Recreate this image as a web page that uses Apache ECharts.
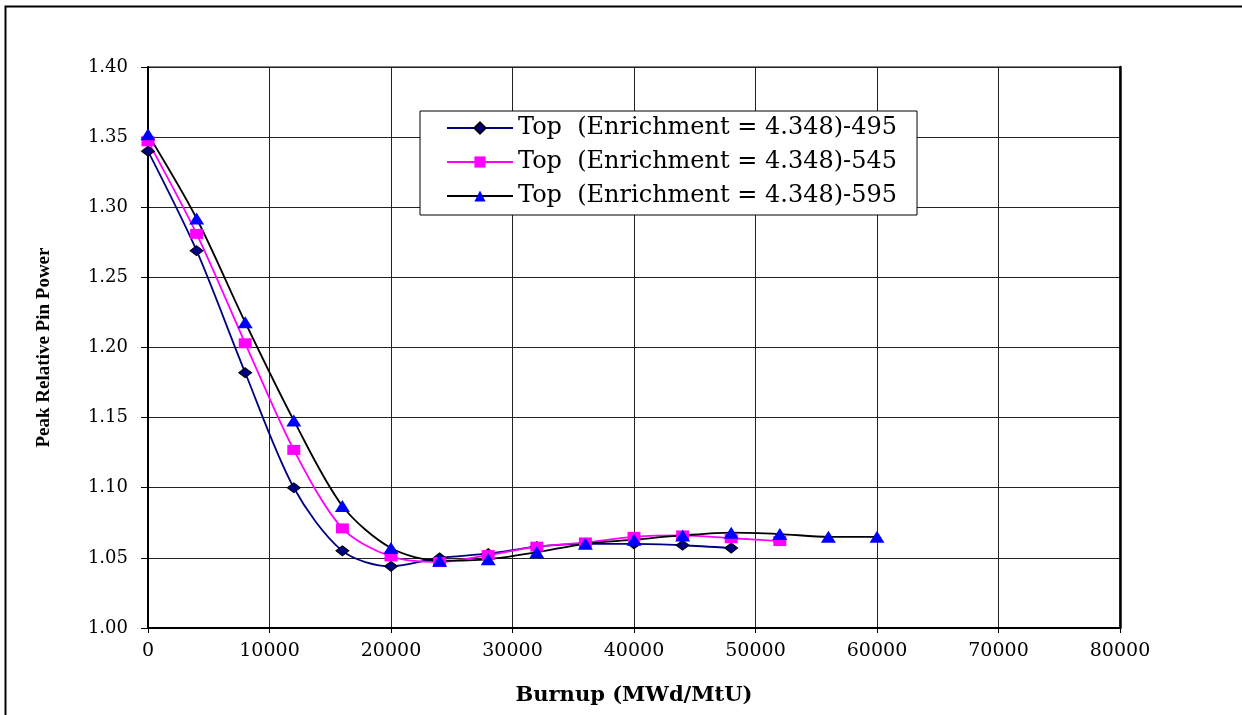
<!DOCTYPE html>
<html>
<head>
<meta charset="utf-8">
<script src="https://cdn.jsdelivr.net/npm/echarts@6/dist/echarts.min.js"></script>
<style>
  html, body { margin: 0; padding: 0; background: #fff; }
  #chart { width: 1242px; height: 715px; }
</style>
</head>
<body>
<div id="chart"></div>
<script>
// ---- 数据 ----
const names = [
  'Top  (Enrichment = 4.348)-495',
  'Top  (Enrichment = 4.348)-545',
  'Top  (Enrichment = 4.348)-595'
];
const burnup495 = [0, 4000, 8000, 12000, 16000, 20000, 24000, 28000, 32000, 36000, 40000, 44000, 48000];
const power495  = [1.340, 1.269, 1.182, 1.100, 1.055, 1.044, 1.050, 1.053, 1.058, 1.060, 1.060, 1.059, 1.057];
const burnup545 = [0, 4000, 8000, 12000, 16000, 20000, 24000, 28000, 32000, 36000, 40000, 44000, 48000, 52000];
const power545  = [1.347, 1.281, 1.203, 1.127, 1.071, 1.051, 1.047, 1.052, 1.058, 1.061, 1.065, 1.066, 1.064, 1.062];
const burnup595 = [0, 4000, 8000, 12000, 16000, 20000, 24000, 28000, 32000, 36000, 40000, 44000, 48000, 52000, 56000, 60000];
const power595  = [1.352, 1.292, 1.218, 1.148, 1.087, 1.057, 1.048, 1.049, 1.054, 1.060, 1.063, 1.066, 1.068, 1.067, 1.065, 1.065];

const pairs = (xs, ys) => xs.map((x, i) => [x, ys[i]]);

const serif = 'DejaVu Serif';
const chart = echarts.init(document.getElementById('chart'));

chart.setOption({
  animation: false,
  backgroundColor: '#fff',
  graphic: [{
    type: 'rect',
    shape: { x: 5.5, y: 6.5, width: 1260, height: 730 },
    style: { fill: 'none', stroke: '#000', lineWidth: 2 },
    silent: true
  }],
  grid: { left: 148, right: 122, top: 67, bottom: 87, show: true, borderColor: '#000', borderWidth: 1 },
  legend: {
    orient: 'vertical',
    left: 420, top: 111,
    padding: [5, 20, 7, 26],
    itemWidth: 66, itemHeight: 14, itemGap: 10,
    backgroundColor: '#fff',
    borderColor: '#000', borderWidth: 1,
    textStyle: { fontFamily: serif, fontSize: 24, color: '#000' },
    data: names
  },
  xAxis: {
    type: 'value', min: 0, max: 80000, interval: 10000,
    name: 'Burnup (MWd/MtU)', nameLocation: 'middle', nameGap: 57,
    nameTextStyle: { fontFamily: serif, fontWeight: 'bold', fontSize: 21, color: '#000' },
    axisLine: { lineStyle: { color: '#000', width: 2 } },
    axisTick: { show: true, length: 5, lineStyle: { color: '#000' } },
    axisLabel: { fontFamily: serif, fontSize: 19, color: '#000', margin: 14, formatter: (v) => String(v) },
    splitLine: { show: true, lineStyle: { color: '#222', width: 1 } }
  },
  yAxis: [{
    type: 'value', min: 1.0, max: 1.4, interval: 0.05,
    name: 'Peak Relative Pin Power', nameLocation: 'middle', nameGap: 94, nameRotate: 90,
    nameTextStyle: { fontFamily: 'Liberation Serif', fontWeight: 'bold', fontSize: 19, color: '#000' },
    axisLine: { show: true, lineStyle: { color: '#000', width: 2 } },
    axisTick: { show: true, length: 7, lineStyle: { color: '#000' } },
    axisLabel: { fontFamily: serif, fontSize: 18, color: '#000', margin: 20, formatter: (v) => v.toFixed(2) },
    splitLine: { show: true, lineStyle: { color: '#222', width: 1 } }
  }, {
    type: 'value', min: 1.0, max: 1.4, position: 'right',
    axisLine: { show: true, lineStyle: { color: '#000', width: 2.5 } },
    axisTick: { show: false }, axisLabel: { show: false }, splitLine: { show: false }
  }],
  series: [{
    name: names[0], type: 'line', smooth: 0.3,
    data: pairs(burnup495, power495),
    symbol: 'diamond', symbolSize: [13, 10],
    lineStyle: { color: '#000080', width: 1.8 },
    itemStyle: { color: '#000080', borderColor: '#000', borderWidth: 1 }
  }, {
    name: names[1], type: 'line', smooth: 0.3,
    data: pairs(burnup545, power545),
    symbol: 'rect', symbolSize: [13, 10],
    lineStyle: { color: '#ff00ff', width: 1.8 },
    itemStyle: { color: '#ff00ff' }
  }, {
    name: names[2], type: 'line', smooth: 0.3,
    data: pairs(burnup595, power595),
    symbol: 'triangle', symbolSize: [15, 12],
    lineStyle: { color: '#000', width: 1.8 },
    itemStyle: { color: '#0000ff' }
  }]
});
</script>
</body>
</html>
